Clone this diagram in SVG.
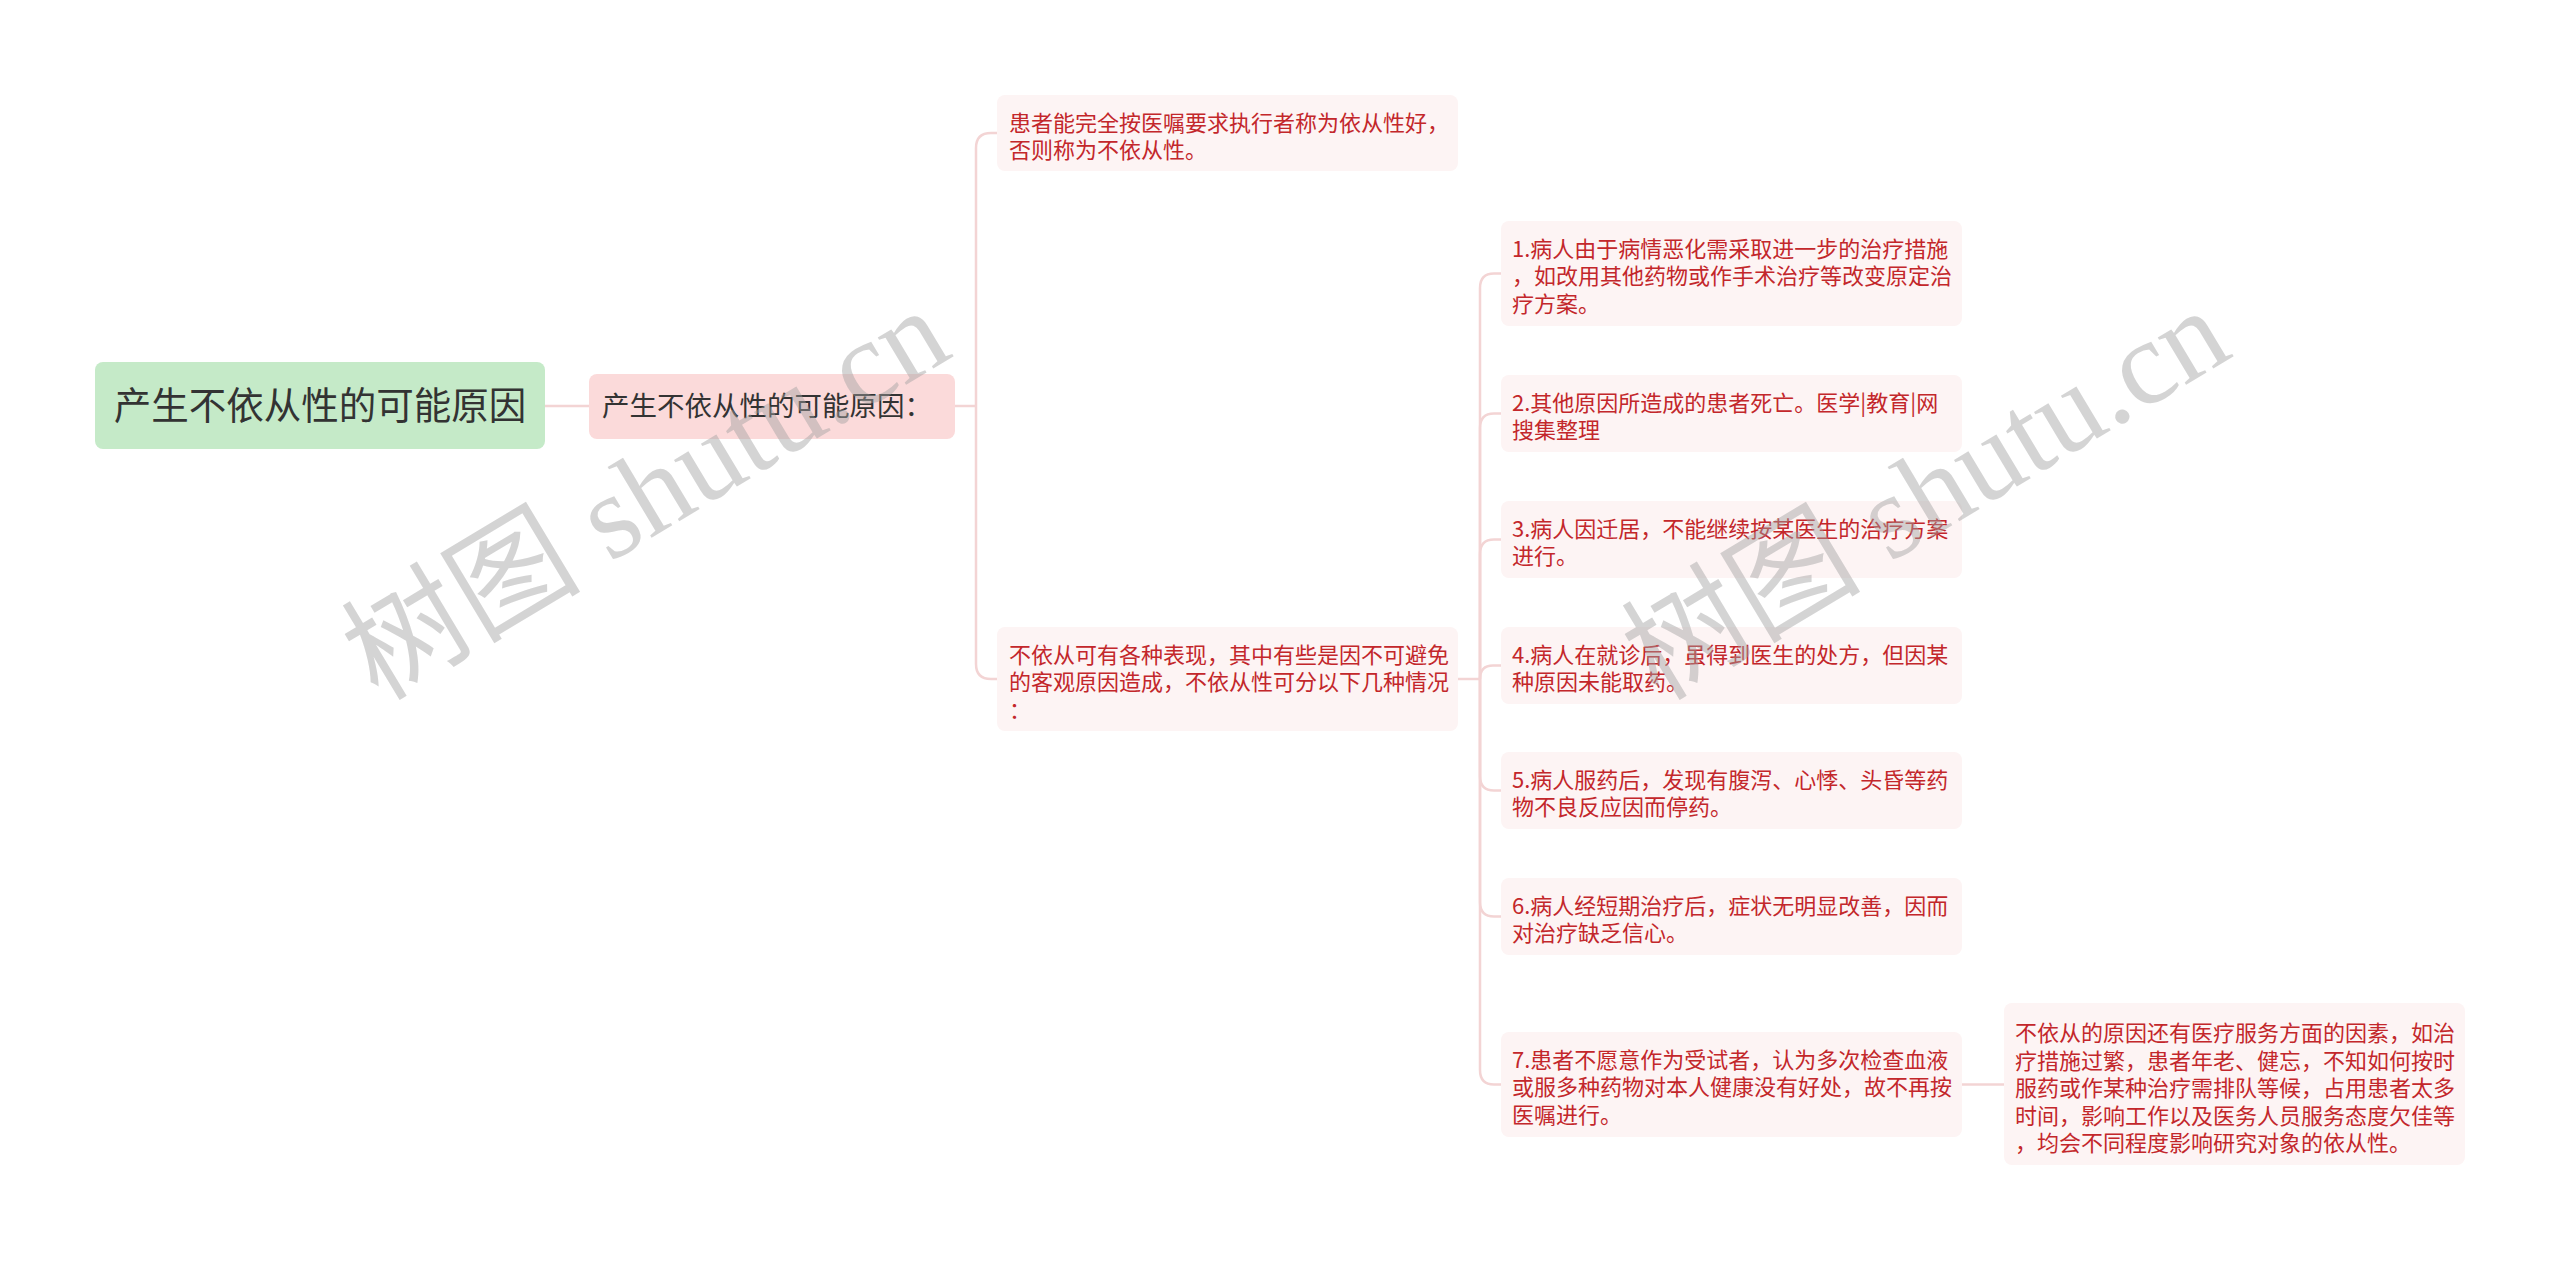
<svg xmlns="http://www.w3.org/2000/svg" width="2560" height="1261" viewBox="0 0 2560 1261">
<style>
.bg{fill:#ffffff}
.con{fill:none;stroke:#f3d4d4;stroke-width:2.5}
.leaf{fill:#fdf4f4}
.lt{font-family:"Noto Sans CJK SC","Noto Sans",sans-serif;font-size:22px;fill:#c3272b}
.wm{font-family:"Liberation Serif","Noto Sans CJK SC",serif;font-size:120px;fill:#a0a0a0;fill-opacity:0.45}
</style>
<rect class="bg" x="0" y="0" width="2560" height="1261"/>
<g id="connectors">
<path class="con" d="M545 406 L589 406"/>
<path class="con" d="M955 406 L976 406"/>
<path class="con" d="M976 406 L976 148 Q976 133 991 133 L997 133"/>
<path class="con" d="M976 406 L976 664 Q976 679 991 679 L997 679"/>
<path class="con" d="M1458 679 L1480 679"/>
<path class="con" d="M1480 679 L1480 288 Q1480 273.5 1494 273.5 L1501 273.5"/>
<path class="con" d="M1480 679 L1480 428 Q1480 413.5 1494 413.5 L1501 413.5"/>
<path class="con" d="M1480 679 L1480 554 Q1480 539.5 1494 539.5 L1501 539.5"/>
<path class="con" d="M1480 679 Q1480 665.5 1493 665.5 L1501 665.5"/>
<path class="con" d="M1480 679 L1480 776 Q1480 790.5 1494 790.5 L1501 790.5"/>
<path class="con" d="M1480 679 L1480 902 Q1480 916.5 1494 916.5 L1501 916.5"/>
<path class="con" d="M1480 679 L1480 1070 Q1480 1084.5 1494 1084.5 L1501 1084.5"/>
<path class="con" d="M1962 1084.5 L2004 1084.5"/>
</g>
<g id="root">
<rect x="95" y="362" width="450" height="87" rx="8" fill="#c5eac8"/>
<text x="320" y="419" text-anchor="middle" font-family="Noto Sans CJK SC, Noto Sans, sans-serif" font-size="37.5" fill="#333333">产生不依从性的可能原因</text>
</g>
<g id="n2">
<rect x="589" y="374" width="366" height="65" rx="8" fill="#fbdada"/>
<text x="602" y="416" font-family="Noto Sans CJK SC, Noto Sans, sans-serif" font-size="27.5" fill="#333333">产生不依从性的可能原因：</text>
</g>
<g id="n3a">
<rect class="leaf" x="997" y="95" width="461" height="76" rx="8"/>
<text class="lt" x="1009" y="130.5">患者能完全按医嘱要求执行者称为依从性好，</text>
<text class="lt" x="1009" y="158">否则称为不依从性。</text>
</g>
<g id="n3b">
<rect class="leaf" x="997" y="627" width="461" height="104" rx="8"/>
<text class="lt" x="1009" y="662.5">不依从可有各种表现，其中有些是因不可避免</text>
<text class="lt" x="1009" y="690">的客观原因造成，不依从性可分以下几种情况</text>
<text class="lt" x="1009" y="717.5">：</text>
</g>
<g id="n4-1">
<rect class="leaf" x="1501" y="221" width="461" height="105" rx="8"/>
<text class="lt" x="1512" y="256.5">1.病人由于病情恶化需采取进一步的治疗措施</text>
<text class="lt" x="1512" y="284">，如改用其他药物或作手术治疗等改变原定治</text>
<text class="lt" x="1512" y="311.5">疗方案。</text>
</g>
<g id="n4-2">
<rect class="leaf" x="1501" y="375" width="461" height="77" rx="8"/>
<text class="lt" x="1512" y="410.5">2.其他原因所造成的患者死亡。医学|教育|网</text>
<text class="lt" x="1512" y="438">搜集整理</text>
</g>
<g id="n4-3">
<rect class="leaf" x="1501" y="501" width="461" height="77" rx="8"/>
<text class="lt" x="1512" y="536.5">3.病人因迁居，不能继续按某医生的治疗方案</text>
<text class="lt" x="1512" y="564">进行。</text>
</g>
<g id="n4-4">
<rect class="leaf" x="1501" y="627" width="461" height="77" rx="8"/>
<text class="lt" x="1512" y="662.5">4.病人在就诊后，虽得到医生的处方，但因某</text>
<text class="lt" x="1512" y="690">种原因未能取药。</text>
</g>
<g id="n4-5">
<rect class="leaf" x="1501" y="752" width="461" height="77" rx="8"/>
<text class="lt" x="1512" y="787.5">5.病人服药后，发现有腹泻、心悸、头昏等药</text>
<text class="lt" x="1512" y="815">物不良反应因而停药。</text>
</g>
<g id="n4-6">
<rect class="leaf" x="1501" y="878" width="461" height="77" rx="8"/>
<text class="lt" x="1512" y="913.5">6.病人经短期治疗后，症状无明显改善，因而</text>
<text class="lt" x="1512" y="941">对治疗缺乏信心。</text>
</g>
<g id="n4-7">
<rect class="leaf" x="1501" y="1032" width="461" height="105" rx="8"/>
<text class="lt" x="1512" y="1067.5">7.患者不愿意作为受试者，认为多次检查血液</text>
<text class="lt" x="1512" y="1095">或服多种药物对本人健康没有好处，故不再按</text>
<text class="lt" x="1512" y="1122.5">医嘱进行。</text>
</g>
<g id="n5">
<rect class="leaf" x="2004" y="1003" width="461" height="162" rx="8"/>
<text class="lt" x="2015" y="1041">不依从的原因还有医疗服务方面的因素，如治</text>
<text class="lt" x="2015" y="1068.5">疗措施过繁，患者年老、健忘，不知如何按时</text>
<text class="lt" x="2015" y="1096">服药或作某种治疗需排队等候，占用患者太多</text>
<text class="lt" x="2015" y="1123.5">时间，影响工作以及医务人员服务态度欠佳等</text>
<text class="lt" x="2015" y="1151">，均会不同程度影响研究对象的依从性。</text>
</g>
<g id="watermarks">
<text class="wm" transform="translate(378 702) rotate(-31)">树图 shutu.cn</text>
<text class="wm" transform="translate(1658 702) rotate(-31)">树图 shutu.cn</text>
</g>
</svg>
